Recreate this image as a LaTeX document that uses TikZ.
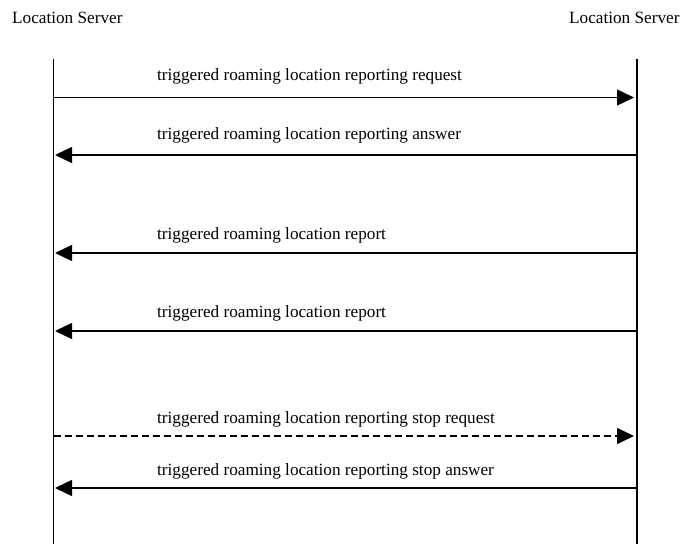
\documentclass[tikz,border=0pt]{standalone}
\usepackage{fontspec}
\setmainfont{Liberation Serif}
\usetikzlibrary{positioning,arrows.meta}

\begin{document}
\begin{tikzpicture}[
    x=1pt, y=-1pt,
    server/.style={%
      anchor=base west,
      inner sep=0pt,
      font=\fontsize{17.2}{20}\selectfont,
    },
    msg/.style={%
      anchor=base west,
      inner sep=0pt,
      font=\fontsize{17.2}{20}\selectfont,
    },
    lifeline/.style={line width=1.4pt},
    call/.style={line width=1.4pt, -{Triangle[length=17pt,width=16pt]}},
  ]
    \useasboundingbox (0,0) rectangle (681,544);

    % entities
    \node [server] (LSa) at (12,23) {Location Server};
    \node [server] (LSb) at (569,23) {Location Server};

    \coordinate (Atop) at (53.5,59);
    \coordinate (Abot) at (53.5,544);
    \coordinate (Btop) at (637,59);
    \coordinate (Bbot) at (637,544);
    \draw [lifeline] (Atop) -- (Abot);
    \draw [lifeline] (Btop) -- (Bbot);

    % message end points
    \coordinate (A1) at (53.5,97.5);  \coordinate (B1) at (634,97.5);
    \coordinate (A2) at (55,155);     \coordinate (B2) at (637,155);
    \coordinate (A3) at (55,253);     \coordinate (B3) at (637,253);
    \coordinate (A4) at (55,331);     \coordinate (B4) at (637,331);
    \coordinate (A5) at (53.5,436);   \coordinate (B5) at (634,436);
    \coordinate (A6) at (55,488);     \coordinate (B6) at (637,488);

    \draw [call] (A1) -- (B1);
    \draw [call] (B2) -- (A2);
    \draw [call] (B3) -- (A3);
    \draw [call] (B4) -- (A4);
    \draw [call, dashed, dash pattern=on 7pt off 4pt] (A5) -- (B5);
    \draw [call] (B6) -- (A6);

    % labels
    \node [msg] (m1) at (157,80) {triggered roaming location reporting request};
    \node [msg] (m2) at (157,139) {triggered roaming location reporting answer};
    \node [msg] (m3) at (157,239) {triggered roaming location report};
    \node [msg] (m4) at (157,317) {triggered roaming location report};
    \node [msg] (m5) at (157,423) {triggered roaming location reporting stop request};
    \node [msg] (m6) at (157,475) {triggered roaming location reporting stop answer};

\end{tikzpicture}
\end{document}
